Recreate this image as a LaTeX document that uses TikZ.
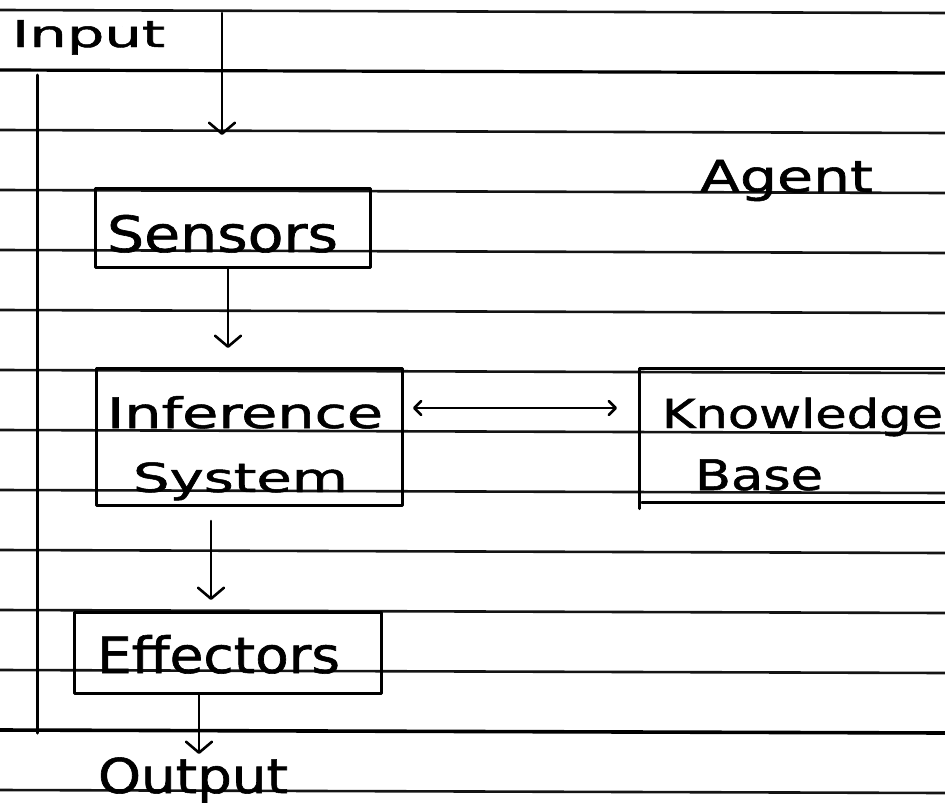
\documentclass[tikz,border=0pt]{standalone}
\usepackage{graphicx}
\usepackage{fontspec}
\newfontfamily\handfont{DejaVu Sans}[FakeBold=1.2]
\usetikzlibrary{arrows.meta,calc}
% text stretched to a given width (pt) at a given size (pt)
\newcommand{\handtext}[3]{\resizebox{#1pt}{\height}{\fontsize{#2}{#2}\selectfont\handfont #3}}
\begin{document}
\begin{tikzpicture}[x=1pt,y=-1pt,
  rule/.style={line width=2.6pt,color=black!92},
  edge/.style={line width=3pt,color=black,line cap=round,line join=round},
  txt/.style={anchor=base west,inner sep=0pt,outer sep=0pt},
  box/.style={draw,line width=3pt,inner sep=0pt,line join=round},
  arr/.style={line width=2.6pt,line cap=round,-{Straight Barb[length=11pt,width=26pt,line width=2.6pt,round]}},
  darr/.style={line width=2.6pt,line cap=round,{Straight Barb[length=7pt,width=14pt,line width=2.6pt,round]}-{Straight Barb[length=7pt,width=14pt,line width=2.6pt,round]}}]
\useasboundingbox (0,0) rectangle (945,803);
\fill[white] (0,0) rectangle (945,803);

% ruled paper
\foreach \yy in {10,130,190,250,310,370,430,490,550,610,670,790}
  \draw[rule] (0,\yy) -- (945,\yy+3);
\draw[line width=3.2pt] (0,70) -- (945,73);
\draw[line width=3.6pt] (0,730) -- (945,733);

% agent boundary
\coordinate (agTop) at (37,75);
\coordinate (agBot) at (37,733);
\draw[edge] (agTop) -- (agBot);

% blocks
\node[box,minimum width=275pt,minimum height=79pt] (sensors) at (232.5,227.5) {};
\node[box,minimum width=306pt,minimum height=137pt] (infer) at (249,436.5) {};
\node[box,minimum width=307pt,minimum height=81pt] (effect) at (227.5,652.5) {};
\node[inner sep=0pt,minimum width=305pt,minimum height=134pt] (kb) at (792.5,435.5) {};
\draw[edge] (kb.north east) -- (kb.north west) -- ($(kb.south west)+(0,6)$);
\draw[edge] ($(kb.south west)+(2,0)$) -- (kb.south east);

% labels
\node[txt] (input) at (12,47) {\handtext{153}{37}{Input}};
\node[txt] (agent) at (700,192) {\handtext{173}{44}{Agent}};
\node[txt] (lsens) at (107,252) {\handtext{231}{50}{Sensors}};
\node[txt] (linf) at (107,428) {\handtext{276}{42}{Inference}};
\node[txt] (lsys) at (133,492) {\handtext{215}{40}{System}};
\node[txt] (lknow) at (662,428) {\handtext{281}{40}{Knowledge}};
\node[txt] (lbase) at (695,490) {\handtext{128}{42}{Base}};
\node[txt] (leff) at (97,673) {\handtext{243}{50}{Effectors}};
\node[txt] (output) at (98,793) {\handtext{190}{48}{Output}};

% connectors
\coordinate (inA) at (222,13);
\coordinate (inB) at (222,135);
\draw[arr] (inA) -- (inB);

\coordinate (sA) at (228,268);
\coordinate (sB) at (228,348);
\draw[arr] (sA) -- (sB);

\coordinate (kA) at (413,408);
\coordinate (kB) at (617,408);
\draw[darr] (kA) -- (kB);

\coordinate (iA) at (211,521);
\coordinate (iB) at (211,600);
\draw[arr] (iA) -- (iB);

\coordinate (eA) at (199,694);
\coordinate (eB) at (199,754);
\draw[arr] (eA) -- (eB);
\end{tikzpicture}
\end{document}
